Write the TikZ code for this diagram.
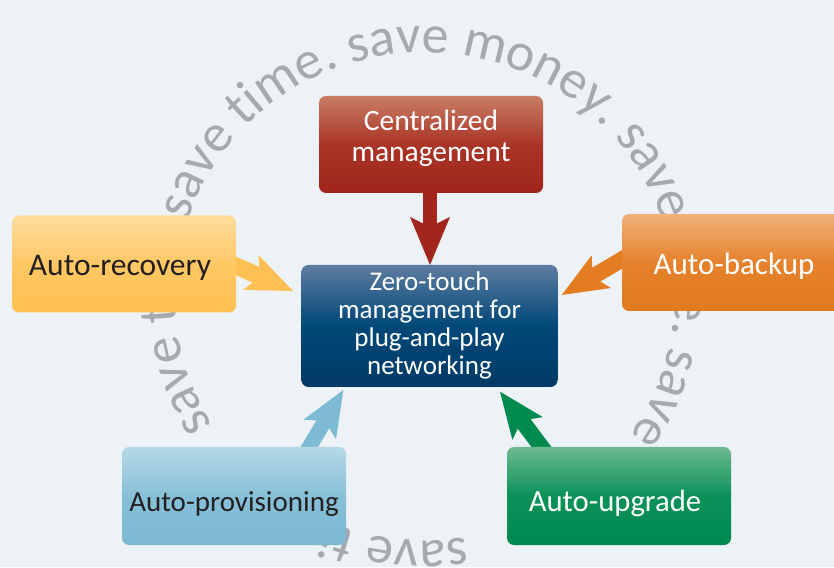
\documentclass[tikz,border=0pt]{standalone}
\usepackage{fontspec}
\setmainfont{Carlito}
\usetikzlibrary{arrows.meta,decorations.text,calc}
\definecolor{bgc}{RGB}{237,242,247}
\definecolor{circg}{RGB}{166,169,173}
\definecolor{darkT}{RGB}{35,31,32}
\definecolor{redT}{RGB}{200,126,102}
\definecolor{redM}{RGB}{170,52,38}
\definecolor{redB}{RGB}{160,38,27}
\definecolor{bluT}{RGB}{94,124,160}
\definecolor{bluM}{RGB}{0,72,120}
\definecolor{bluB}{RGB}{0,58,102}
\definecolor{yelT}{RGB}{255,220,158}
\definecolor{yelM}{RGB}{255,200,100}
\definecolor{yelB}{RGB}{255,192,82}
\definecolor{oraT}{RGB}{240,178,122}
\definecolor{oraM}{RGB}{229,130,44}
\definecolor{oraB}{RGB}{225,122,30}
\definecolor{cyaT}{RGB}{182,216,230}
\definecolor{cyaM}{RGB}{135,192,216}
\definecolor{cyaB}{RGB}{122,184,210}
\definecolor{grnT}{RGB}{110,185,145}
\definecolor{grnM}{RGB}{10,145,88}
\definecolor{grnB}{RGB}{0,138,80}
\definecolor{arrRed}{RGB}{162,38,27}
\definecolor{arrYel}{RGB}{254,191,85}
\definecolor{arrOra}{RGB}{228,125,34}
\definecolor{arrCya}{RGB}{125,186,212}
\definecolor{arrGrn}{RGB}{0,138,78}
\newcommand{\circfont}{\fontsize{54}{54}\selectfont\color{circg}}
\newcommand{\boxline}[2]{\raisebox{-#1}[0pt][0pt]{#2}}
\newcommand{\fs}[1]{\fontsize{#1}{#1}\selectfont}
\pgfdeclarelayer{bglayer}
\pgfdeclarelayer{arrlayer}
\pgfsetlayers{bglayer,arrlayer,main}
\begin{document}
\begin{tikzpicture}[x=1pt,y=1pt,
  card/.style={rounded corners=7pt, minimum width=224pt, minimum height=97pt, inner sep=0pt, outer sep=0pt},
  side/.style={card},
  barb/.style={line width=#1, -{Stealth[length=46pt,width=38pt,inset=10pt,line width=0pt]}},
  ring/.style={decorate, decoration={text along path, text align=left, text={|\circfont|#1}}}
]
\useasboundingbox (0,0) rectangle (834,567);
\begin{pgfonlayer}{bglayer}
\fill[bgc] (0,0) rectangle (834,567);
\coordinate (c0) at (425,270.5);
\path[ring={save time. save money. save}] (c0) ++(162:250 and 244) arc[start angle=162, end angle=5, x radius=250, y radius=244];
\path[ring={e. save}] (c0) ++(0.5:250 and 244) arc[start angle=0.5, end angle=-60, x radius=250, y radius=244];
\path[ring={save ti}] (c0) ++(-80.5:250 and 244) arc[start angle=-80.5, end angle=-130, x radius=250, y radius=244];
\path[ring={save t}] (c0) ++(-148:250 and 244) arc[start angle=-148, end angle=-200, x radius=250, y radius=244];
\end{pgfonlayer}

\node[card, minimum width=256pt, minimum height=122pt, top color=bluT, bottom color=bluB, middle color=bluM, text=white, font=\fontsize{27}{28.3}\selectfont] (zt) at (429.5,241)
  {\boxline{49pt}{\begin{tabular}[b]{@{}c@{}}Zero-touch\\management for\\plug-and-play\\networking\end{tabular}}};
\node[card, top color=redT, bottom color=redB, middle color=redM, text=white, font=\fontsize{29.5}{31}\selectfont] (cent) at (431,422.5)
  {\boxline{17pt}{\begin{tabular}[b]{@{}c@{}}Centralized\\management\end{tabular}}};
\node[side, top color=yelT, bottom color=yelB, middle color=yelM, text=darkT, font=\fs{31.5}] (rec) at (124,303) {\boxline{12pt}{\hspace*{-8pt}Auto-recovery}};
\node[side, top color=oraT, bottom color=oraB, middle color=oraM, text=white, font=\fs{31}] (bak) at (734,304.5) {\boxline{12.5pt}{Auto-backup}};
\node[side, minimum height=98pt, top color=cyaT, bottom color=cyaB, middle color=cyaM, text=darkT, font=\fs{29}] (prov) at (234,71) {\boxline{15.5pt}{Auto-provisioning}};
\node[side, minimum height=98pt, top color=grnT, bottom color=grnB, middle color=grnM, text=white, font=\fs{30.7}] (upg) at (619,71) {\boxline{15.5pt}{\hspace*{-8pt}Auto-upgrade}};

\coordinate (tipCent) at ($(zt.north)+(0.5,0)$);
\coordinate (tipRec) at ($(zt.west)+(-8.5,35)$);
\coordinate (tipBak) at ($(zt.east)+(4.2,31)$);
\coordinate (tipProv) at ($(zt.south west)+(41.8,-3)$);
\coordinate (tipUpg) at ($(zt.south east)+(-57.5,-4.7)$);
\coordinate (sCent) at ($(cent.center)+(-1,-25.5)$);
\coordinate (sRec) at ($(rec.center)+(96,5)$);
\coordinate (sBak) at ($(bak.center)+(-103.4,8.1)$);
\coordinate (sProv) at ($(prov.center)+(68.3,37.3)$);
\coordinate (sUpg) at ($(upg.center)+(-71,40.3)$);

\begin{pgfonlayer}{arrlayer}
\draw[barb=14pt, arrRed, -{Stealth[length=48pt,width=40pt,inset=10pt,line width=0pt]}] (sCent) -- (tipCent);
\draw[barb=17pt, arrYel] (sRec) -- (tipRec);
\draw[barb=16pt, arrOra] (sBak) -- (tipBak);
\draw[barb=15pt, arrCya] (sProv) -- (tipProv);
\draw[barb=16pt, arrGrn] (sUpg) -- (tipUpg);
\end{pgfonlayer}
\end{tikzpicture}
\end{document}
